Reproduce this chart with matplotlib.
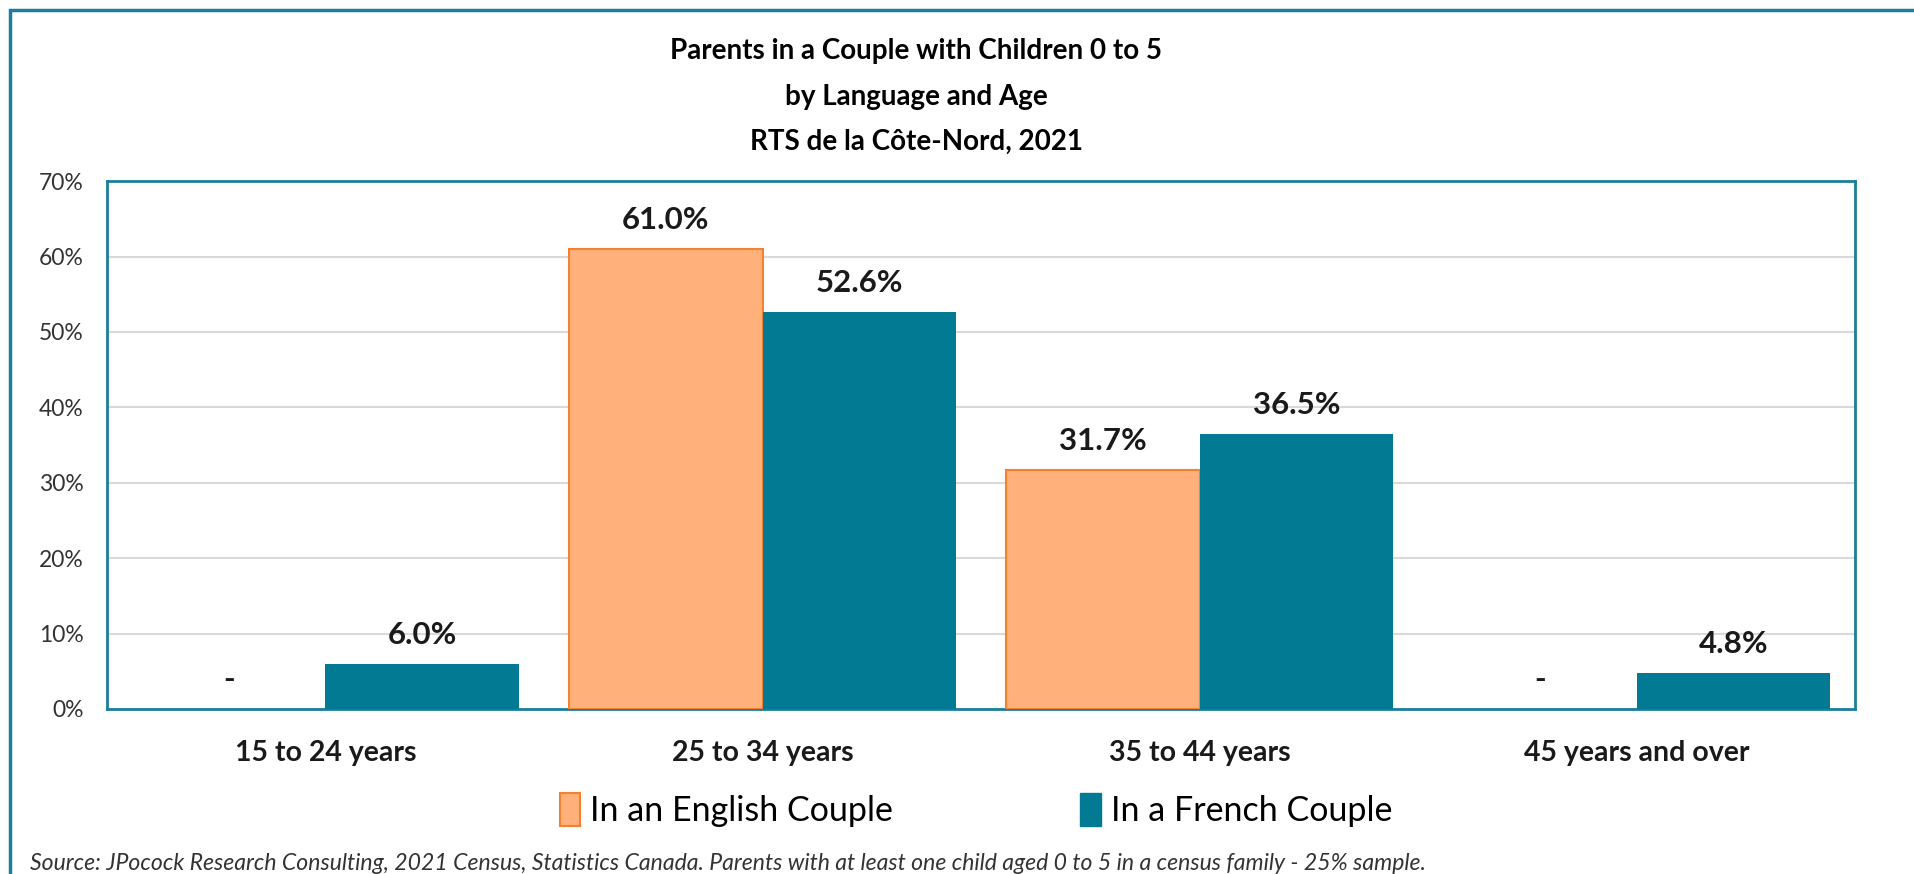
import matplotlib.pyplot as plt
from matplotlib.patches import Rectangle, Patch
import numpy as np

plt.rcParams['font.family'] = ['Lato', 'DejaVu Sans']

categories = ["15 to 24 years", "25 to 34 years", "35 to 44 years", "45 years and over"]
english = [0.0, 61.0, 31.7, 0.0]
french = [6.0, 52.6, 36.5, 4.8]
series_names = ["In an English Couple", "In a French Couple"]

eng_fill = "#FFB07B"
eng_edge = "#F5812F"
fr_fill = "#037A93"
frame_col = "#1B7F9B"

fig = plt.figure(figsize=(19.14, 8.74), dpi=100)

# outer chart frame
fig.patches.append(Rectangle((10 / 1914, -0.1), 1.2, 1.1 - 10 / 874, transform=fig.transFigure,
                             fill=False, edgecolor=frame_col, linewidth=2.5))

ax = fig.add_axes([0.0559, 0.1888, 0.9133, 0.604])
x = np.arange(len(categories))
w = 0.443
b1 = ax.bar(x - w / 2, english, w, color=eng_fill, edgecolor=eng_edge, linewidth=1.5, zorder=3)
b2 = ax.bar(x + w / 2, french, w, color=fr_fill, zorder=3)

for bars, vals in ((b1, english), (b2, french)):
    for r, v in zip(bars, vals):
        if v == 0:
            r.set_linewidth(0)
        lab = "-" if v == 0 else f"{v:.1f}%"
        ax.annotate(lab, (r.get_x() + r.get_width() / 2, v), xytext=(0, 21),
                    textcoords="offset points", ha="center", va="center",
                    fontsize=22.5, fontweight="bold", color="#1a1a1a")

ax.set_xlim(-0.5, 3.5)
ax.set_ylim(0, 70)
ax.set_yticks(np.arange(0, 71, 10))
ax.set_yticklabels([f"{t}%" for t in range(0, 71, 10)], fontsize=16.5, color="#333333")
ax.set_xticks(x)
ax.set_xticklabels(categories, fontsize=20.5, fontweight="bold", color="#1a1a1a")
ax.tick_params(axis="both", length=0)
ax.tick_params(axis="x", pad=22)
ax.tick_params(axis="y", pad=17)
ax.yaxis.grid(True, color="#D9D9D9", linewidth=1.5, zorder=0)
for s in ax.spines.values():
    s.set_color(frame_col)
    s.set_linewidth(2)

fig.text(0.4786, 1 - 51 / 874, "Parents in a Couple with Children 0 to 5", ha="center", va="center",
         fontsize=20, fontweight="bold")
fig.text(0.4786, 1 - 97 / 874, "by Language and Age", ha="center", va="center",
         fontsize=20, fontweight="bold")
fig.text(0.4786, 1 - 142 / 874, "RTS de la Côte-Nord, 2021", ha="center", va="center",
         fontsize=20, fontweight="bold")

handles = [Patch(facecolor=eng_fill, edgecolor=eng_edge, linewidth=1.5),
           Patch(facecolor=fr_fill, edgecolor=fr_fill)]
fig.legend(handles, series_names, loc="center", bbox_to_anchor=(0.51, 1 - 810 / 874), ncol=2,
           frameon=False, fontsize=24.5, handlelength=0.6, handleheight=1.1, handletextpad=0.3,
           columnspacing=5.5)

fig.text(30 / 1914, 1 - 864 / 874, "Source: JPocock Research Consulting, 2021 Census, Statistics Canada. "
         "Parents with at least one child aged 0 to 5 in a census family - 25% sample.",
         ha="left", va="center", fontsize=16.6, style="italic", color="#333333")

fig.savefig("out.png", dpi=100)
